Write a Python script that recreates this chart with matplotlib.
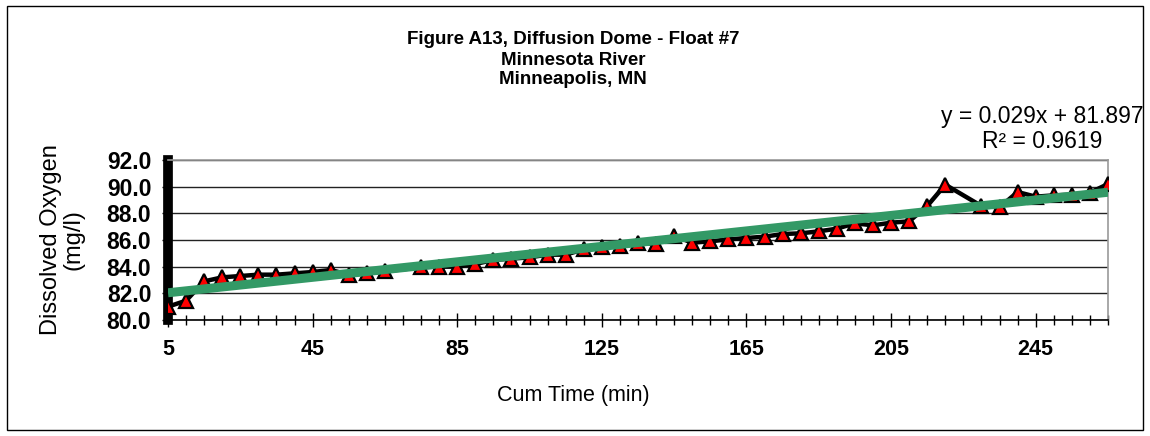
import numpy as np
import matplotlib
matplotlib.use('Agg')
import matplotlib.pyplot as plt
from matplotlib.patches import Rectangle
from matplotlib.ticker import MultipleLocator, FixedLocator

plt.rcParams['font.family'] = ['Liberation Sans', 'DejaVu Sans']

# data (70 and 225 min have no reading)
cum_time = [5, 10, 15, 20, 25, 30, 35, 40, 45, 50, 55, 60, 65,
            75, 80, 85, 90, 95, 100, 105, 110, 115, 120, 125, 130,
            135, 140, 145, 150, 155, 160, 165, 170, 175, 180, 185, 190,
            195, 200, 205, 210, 215, 220,
            230, 235, 240, 245, 250, 255, 260, 265]
dissolved_oxygen = [81.0, 81.45, 82.9, 83.2, 83.3, 83.4, 83.4, 83.5, 83.6, 83.75, 83.4, 83.5, 83.65,
                    83.95, 84.0, 84.0, 84.2, 84.5, 84.6, 84.7, 84.9, 84.9, 85.3, 85.45, 85.55,
                    85.8, 85.7, 86.3, 85.8, 85.9, 86.05, 86.15, 86.25, 86.45, 86.5, 86.65, 86.85,
                    87.25, 87.1, 87.3, 87.4, 88.55, 90.15,
                    88.55, 88.45, 89.6, 89.25, 89.35, 89.4, 89.55, 90.2]

# linear trendline as printed on the chart
slope = 0.029
intercept = 81.897
r_squared = 0.9619

x_ticks = [5, 45, 85, 125, 165, 205, 245]
y_ticks = [80.0, 82.0, 84.0, 86.0, 88.0, 90.0, 92.0]

W, H = 1150, 436
fig = plt.figure(figsize=(W / 100, H / 100), dpi=100)
ax = fig.add_axes([168 / W, 1 - 320 / H, (1108 - 168) / W, (320 - 160) / H])

# gridlines
for yv in y_ticks:
    ax.axhline(yv, color='#222222', lw=1.0, zorder=1)

# trendline
tx = np.array([cum_time[0], cum_time[-1]])
ax.plot(tx, slope * tx + intercept, color='#339966', lw=6.5, zorder=4,
        solid_capstyle='butt')

# data
ax.plot(cum_time, dissolved_oxygen, color='black', lw=3.2, zorder=3,
        marker='^', markersize=10.5, markerfacecolor='red',
        markeredgecolor='black', markeredgewidth=1.6)

ax.set_xlim(5, 265)
ax.set_ylim(80, 92)
ax.xaxis.set_major_locator(FixedLocator(x_ticks))
ax.xaxis.set_minor_locator(MultipleLocator(5))
ax.set_yticks(y_ticks)
ax.set_yticklabels([f'{v:.1f}' for v in y_ticks], fontsize=16.5, fontweight='bold')
ax.set_xticklabels([str(v) for v in x_ticks], fontsize=15.5, fontweight='bold')
ax.tick_params(axis='x', which='major', direction='inout', length=10, width=1, pad=9)
ax.tick_params(axis='x', which='minor', direction='inout', length=7, width=1)
ax.tick_params(axis='y', direction='out', length=4, width=1, pad=8)

ax.spines['left'].set_linewidth(7)
ax.spines['left'].set_color('black')
ax.spines['bottom'].set_linewidth(1.2)
ax.spines['top'].set_color('#999999')
ax.spines['right'].set_color('#999999')
ax.spines['top'].set_linewidth(1.2)
ax.spines['right'].set_linewidth(1.2)

# titles
fig.text(573 / W, 1 - 40 / H, 'Figure A13, Diffusion Dome - Float #7', ha='center', va='center',
         fontsize=13.5, fontweight='bold')
fig.text(573 / W, 1 - 60 / H, 'Minnesota River', ha='center', va='center',
         fontsize=13.5, fontweight='bold')
fig.text(573 / W, 1 - 80 / H, 'Minneapolis, MN', ha='center', va='center',
         fontsize=13.5, fontweight='bold')

fig.text(1042 / W, 1 - 116 / H, f'y = {slope}x + {intercept}', ha='center', va='center', fontsize=16.5)
fig.text(1042 / W, 1 - 141 / H, f'R² = {r_squared}', ha='center', va='center', fontsize=16.5)

fig.text(62 / W, 1 - 240 / H, 'Dissolved Oxygen\n(mg/l)', ha='center', va='center',
         rotation=90, fontsize=17, linespacing=1.0)
fig.text(573 / W, 1 - 395 / H, 'Cum Time (min)', ha='center', va='center', fontsize=15.5)

# outer chart frame
fig.patches.append(Rectangle((7 / W, 1 - 430 / H), (1143 - 7) / W, (430 - 6) / H,
                             transform=fig.transFigure, fill=False, edgecolor='black', lw=1))

fig.savefig('out.png', dpi=100)
